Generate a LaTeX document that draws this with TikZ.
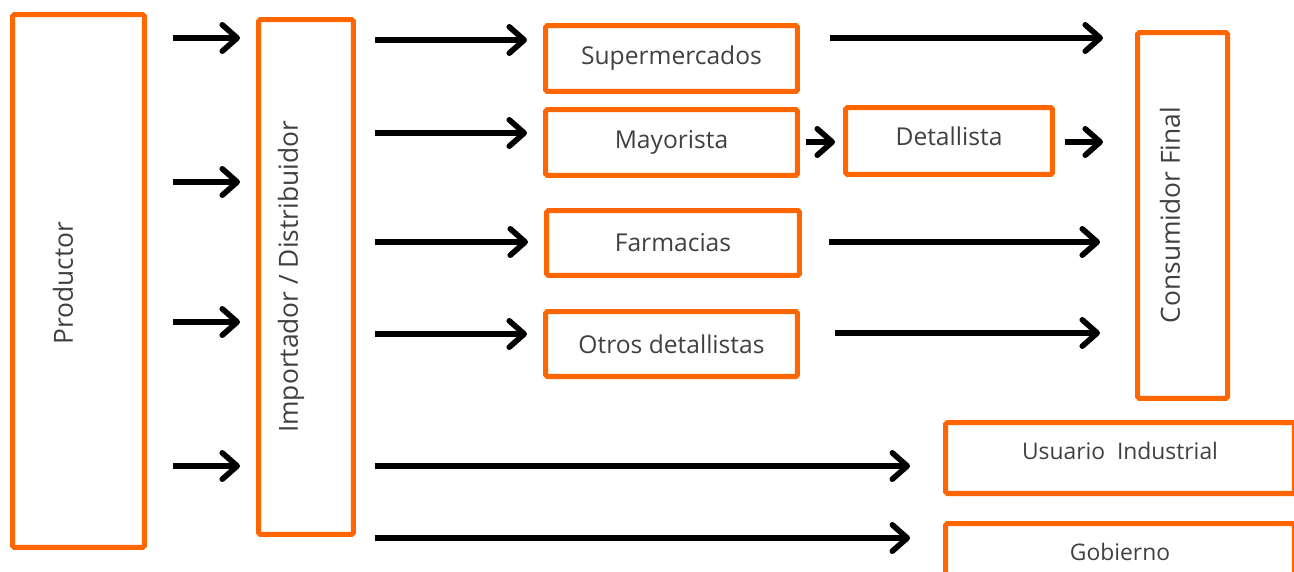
\documentclass[tikz,border=0pt]{standalone}
\usepackage{fontspec}
\setmainfont{Open Sans}
\usetikzlibrary{arrows.meta}
\definecolor{naranja}{HTML}{FF6600}
\definecolor{texto}{HTML}{404040}
\begin{document}
\begin{tikzpicture}[x=0.02cm,y=-0.02cm,
  caja/.style={draw=naranja,line width=2.85pt,rounded corners=1pt,outer sep=0pt,
    inner sep=0pt,text=texto,font=\fontsize{14}{17}\selectfont},
  vtexto/.style={rotate=90,text=texto,font=\fontsize{15}{18}\selectfont},
  flecha/.style={line width=3.2pt,-{Straight Barb[length=8.5pt,width=15pt,round]}}]
\useasboundingbox (0,0) rectangle (1294,571);

% cajas
\node[caja,minimum width=2.64cm,minimum height=10.66cm] (prod) at (78.5,281) {};
\node[vtexto] (prodt) at (63,283) {Productor};
\node[caja,minimum width=1.90cm,minimum height=10.30cm] (imp) at (306,277) {};
\node[vtexto] (impt) at (291,277) {Importador / Distribuidor};

\node[caja,minimum width=5.04cm,minimum height=1.32cm] (sup) at (671.5,58.5) {Supermercados};
\node[caja,minimum width=5.04cm,minimum height=1.32cm] (may) at (671.5,142.5) {Mayorista};
\node[caja,minimum width=4.14cm,minimum height=1.34cm,text depth=0.2cm] (det) at (949,141) {Detallista};
\node[caja,minimum width=5.06cm,minimum height=1.30cm] (far) at (673,243) {Farmacias};
\node[caja,minimum width=5.04cm,minimum height=1.30cm] (otr) at (671.5,344) {Otros detallistas};

\node[caja,minimum width=1.80cm,minimum height=7.32cm] (cons) at (1182.5,215.5) {};
\node[vtexto] (const) at (1170,215) {Consumidor Final};

\node[caja,minimum width=6.98cm,minimum height=1.42cm,text depth=0.3cm,
  font=\fontsize{13}{16}\selectfont] (usu) at (1120,458) {Usuario\ \ Industrial};
\node[caja,minimum width=6.98cm,minimum height=1.30cm,text depth=0.15cm,
  font=\fontsize{13}{16}\selectfont] (gob) at (1120,556) {Gobierno};

% flechas
\foreach \y in {38,182,322,466}
  \draw[flecha,shorten <=0.57cm,shorten >=0.37cm] (prod.east |- 0,\y) -- (imp.west |- 0,\y);

\draw[flecha,shorten <=0.43cm,shorten >=0.37cm] (imp.east |- 0,40) -- (sup.west |- 0,40);
\draw[flecha,shorten <=0.43cm,shorten >=0.37cm] (imp.east |- 0,133) -- (may.west |- 0,133);
\draw[flecha,shorten <=0.43cm,shorten >=0.37cm] (imp.east |- 0,242) -- (far.west |- 0,242);
\draw[flecha,shorten <=0.43cm,shorten >=0.37cm] (imp.east |- 0,334) -- (otr.west |- 0,334);
\draw[flecha,shorten <=0.43cm,shorten >=0.71cm] (imp.east |- 0,466) -- (usu.west |- 0,466);
\draw[flecha,shorten <=0.43cm,shorten >=0.71cm] (imp.east |- 0,538) -- (gob.west |- 0,538);

\draw[flecha,shorten <=0.65cm,shorten >=0.69cm] (sup.east |- 0,38) -- (cons.west |- 0,38);
\draw[flecha,shorten <=0.17cm,shorten >=0.21cm] (may.east |- 0,142) -- (det.west |- 0,142);
\draw[flecha,shorten <=0.25cm,shorten >=0.69cm] (det.east |- 0,142) -- (cons.west |- 0,142);
\draw[flecha,shorten <=0.59cm,shorten >=0.75cm] (far.east |- 0,242) -- (cons.west |- 0,242);
\draw[flecha,shorten <=0.75cm,shorten >=0.75cm] (otr.east |- 0,333) -- (cons.west |- 0,333);
\end{tikzpicture}
\end{document}
